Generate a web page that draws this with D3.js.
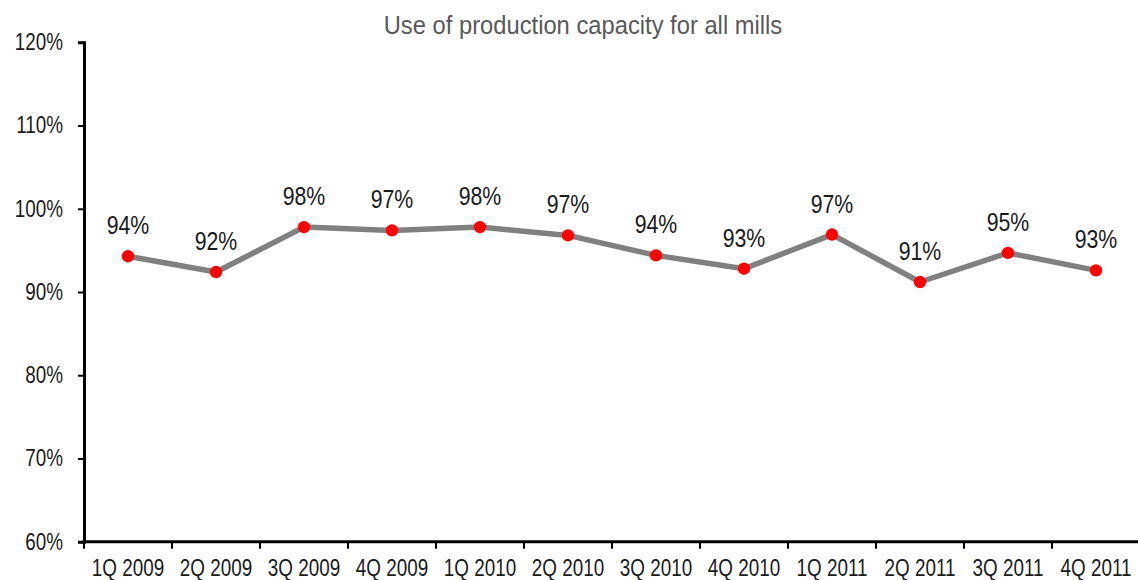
<!DOCTYPE html>
<html>
<head>
<meta charset="utf-8">
<script src="https://cdn.jsdelivr.net/npm/d3@7"></script>
<style>
  html, body { margin: 0; padding: 0; background: #fff; }
  svg { display: block; font-family: "Liberation Sans", Arial, sans-serif; }
</style>
</head>
<body>
<svg id="chart" width="1138" height="580"></svg>
<script>
// Quarterly capacity utilisation, in percent
const quarters = ["1Q 2009", "2Q 2009", "3Q 2009", "4Q 2009", "1Q 2010", "2Q 2010",
                  "3Q 2010", "4Q 2010", "1Q 2011", "2Q 2011", "3Q 2011", "4Q 2011"];
const utilisation = [94.3, 92.4, 97.8, 97.4, 97.8, 96.8, 94.4, 92.8, 96.9, 91.2, 94.7, 92.6];
const yTicks = [60, 70, 80, 90, 100, 110, 120];
const chartTitle = "Use of production capacity for all mills";

const svg = d3.select("#chart");
const plotLeft = 84, plotRight = 1140, plotTop = 42.3, plotBottom = 541.7;

// Squeeze text horizontally around its own anchor point (narrow face)
function narrow(sel, k = 0.82) {
  sel.each(function () {
    const t = d3.select(this);
    const x0 = +(t.attr("x") || 0);
    t.attr("x", x0 / k).attr("transform", `scale(${k},1)`);
  });
}

const x = d3.scaleBand().domain(quarters).range([plotLeft, plotRight]).padding(0);
const y = d3.scaleLinear().domain([60, 120]).range([plotBottom, plotTop]);

// Title
svg.append("text")
  .attr("x", 583).attr("y", 34)
  .attr("text-anchor", "middle")
  .attr("fill", "#595959")
  .attr("font-size", 25)
  .text(chartTitle)
  .call(narrow, 0.95);

// Y axis
const yAxis = svg.append("g")
  .attr("transform", `translate(${plotLeft},0)`)
  .call(d3.axisLeft(y).tickValues(yTicks).tickFormat(d => d + "%").tickSize(6).tickPadding(15));
yAxis.attr("font-family", null).attr("font-size", null);
yAxis.select(".domain").attr("stroke", "#000").attr("stroke-width", 3);
yAxis.selectAll(".tick line").attr("stroke", "#000").attr("stroke-width", 2);
yAxis.selectAll(".tick text").attr("font-size", 23).attr("fill", "#1a1a1a").call(narrow);

// X axis: labels at band centres, tick marks at band boundaries
const xAxis = svg.append("g")
  .attr("transform", `translate(0,${plotBottom})`)
  .call(d3.axisBottom(x).tickSize(0).tickPadding(18));
xAxis.attr("font-family", null).attr("font-size", null);
xAxis.select(".domain").remove();
xAxis.selectAll(".tick text").attr("font-size", 23).attr("fill", "#1a1a1a").call(narrow);
svg.append("line")
  .attr("x1", plotLeft - 1.5).attr("x2", plotRight)
  .attr("y1", plotBottom).attr("y2", plotBottom)
  .attr("stroke", "#000").attr("stroke-width", 3);
svg.append("g").selectAll("line")
  .data(quarters)
  .join("line")
  .attr("x1", d => x(d)).attr("x2", d => x(d))
  .attr("y1", plotBottom).attr("y2", plotBottom + 7)
  .attr("stroke", "#000").attr("stroke-width", 2);

const cx = d => x(d) + x.bandwidth() / 2;
const points = quarters.map((q, i) => ({ q, v: utilisation[i] }));

// Line
svg.append("path")
  .datum(points)
  .attr("fill", "none")
  .attr("stroke", "#808080")
  .attr("stroke-width", 5.5)
  .attr("stroke-linejoin", "round")
  .attr("d", d3.line().x(d => cx(d.q)).y(d => y(d.v)));

// Markers
svg.append("g").selectAll("circle")
  .data(points)
  .join("circle")
  .attr("cx", d => cx(d.q))
  .attr("cy", d => y(d.v))
  .attr("r", 6.2)
  .attr("fill", "#ff0000");

// Value labels
svg.append("g").selectAll("text")
  .data(points)
  .join("text")
  .attr("x", d => cx(d.q))
  .attr("y", d => y(d.v) - 22)
  .attr("text-anchor", "middle")
  .attr("font-size", 26)
  .attr("fill", "#1a1a1a")
  .text(d => Math.round(d.v) + "%")
  .call(narrow);
</script>
</body>
</html>
